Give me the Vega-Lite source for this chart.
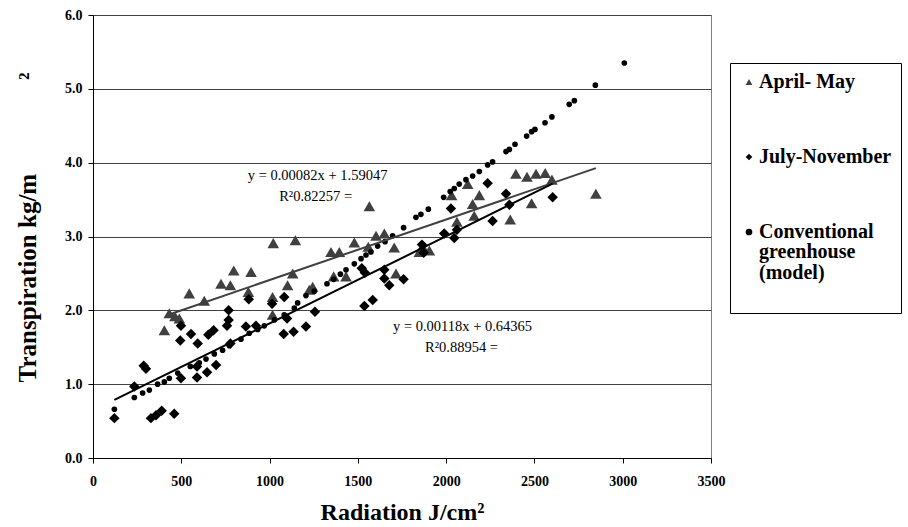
{
  "$schema": "https://vega.github.io/schema/vega-lite/v6.json",
  "width": 618,
  "height": 443,
  "autosize": {"type": "none"},
  "padding": {"left": 93, "top": 15, "right": 197, "bottom": 69},
  "background": "white",
  "config": {"view": {"stroke": "#808080", "strokeWidth": 1}, "font": "Liberation Serif"},
  "datasets": {
    "pts": [
      {"s":"April- May","x":404,"y":1.73},{"s":"April- May","x":432,"y":1.96},{"s":"April- May","x":464,"y":1.92},{"s":"April- May","x":489,"y":1.89},
      {"s":"April- May","x":545,"y":2.23},{"s":"April- May","x":630,"y":2.13},{"s":"April- May","x":725,"y":2.36},{"s":"April- May","x":778,"y":2.34},
      {"s":"April- May","x":797,"y":2.54},{"s":"April- May","x":895,"y":2.52},{"s":"April- May","x":880,"y":2.25},{"s":"April- May","x":1017,"y":2.18},
      {"s":"April- May","x":1017,"y":1.94},{"s":"April- May","x":1021,"y":2.91},{"s":"April- May","x":1102,"y":2.34},{"s":"April- May","x":1131,"y":2.5},
      {"s":"April- May","x":1146,"y":2.95},{"s":"April- May","x":1225,"y":2.28},{"s":"April- May","x":1244,"y":2.32},{"s":"April- May","x":1348,"y":2.79},
      {"s":"April- May","x":1363,"y":2.46},{"s":"April- May","x":1395,"y":2.79},{"s":"April- May","x":1433,"y":2.46},{"s":"April- May","x":1480,"y":2.92},
      {"s":"April- May","x":1559,"y":2.86},{"s":"April- May","x":1565,"y":3.41},{"s":"April- May","x":1603,"y":3.01},{"s":"April- May","x":1650,"y":3.04},
      {"s":"April- May","x":1706,"y":2.85},{"s":"April- May","x":1716,"y":2.5},{"s":"April- May","x":1848,"y":2.79},{"s":"April- May","x":1867,"y":2.86},
      {"s":"April- May","x":1905,"y":2.81},{"s":"April- May","x":2031,"y":3.56},{"s":"April- May","x":2061,"y":3.2},{"s":"April- May","x":2122,"y":3.71},
      {"s":"April- May","x":2150,"y":3.44},{"s":"April- May","x":2159,"y":3.28},{"s":"April- May","x":2188,"y":3.56},{"s":"April- May","x":2363,"y":3.23},
      {"s":"April- May","x":2395,"y":3.85},{"s":"April- May","x":2458,"y":3.81},{"s":"April- May","x":2484,"y":3.45},{"s":"April- May","x":2509,"y":3.85},
      {"s":"April- May","x":2561,"y":3.86},{"s":"April- May","x":2599,"y":3.77},{"s":"April- May","x":2848,"y":3.58},

      {"s":"July-November","x":121,"y":0.54},{"s":"July-November","x":234,"y":0.97},{"s":"July-November","x":287,"y":1.25},{"s":"July-November","x":300,"y":1.21},
      {"s":"July-November","x":328,"y":0.54},{"s":"July-November","x":357,"y":0.58},{"s":"July-November","x":389,"y":0.64},{"s":"July-November","x":460,"y":0.6},
      {"s":"July-November","x":494,"y":1.59},{"s":"July-November","x":498,"y":1.79},{"s":"July-November","x":498,"y":1.08},{"s":"July-November","x":555,"y":1.68},
      {"s":"July-November","x":589,"y":1.09},{"s":"July-November","x":589,"y":1.24},{"s":"July-November","x":593,"y":1.55},{"s":"July-November","x":646,"y":1.16},
      {"s":"July-November","x":653,"y":1.67},{"s":"July-November","x":683,"y":1.73},{"s":"July-November","x":697,"y":1.26},{"s":"July-November","x":759,"y":1.79},
      {"s":"July-November","x":768,"y":1.87},{"s":"July-November","x":768,"y":2.0},{"s":"July-November","x":778,"y":1.55},{"s":"July-November","x":866,"y":1.78},
      {"s":"July-November","x":882,"y":2.15},{"s":"July-November","x":923,"y":1.79},{"s":"July-November","x":1014,"y":2.09},{"s":"July-November","x":1080,"y":1.68},
      {"s":"July-November","x":1083,"y":2.18},{"s":"July-November","x":1099,"y":1.89},{"s":"July-November","x":1136,"y":1.71},{"s":"July-November","x":1206,"y":1.78},
      {"s":"July-November","x":1257,"y":1.98},{"s":"July-November","x":1537,"y":2.06},{"s":"July-November","x":1584,"y":2.14},{"s":"July-November","x":1522,"y":2.57},
      {"s":"July-November","x":1540,"y":2.51},{"s":"July-November","x":1650,"y":2.55},{"s":"July-November","x":1650,"y":2.43},{"s":"July-November","x":1678,"y":2.34},
      {"s":"July-November","x":1759,"y":2.42},{"s":"July-November","x":1863,"y":2.89},{"s":"July-November","x":1873,"y":2.78},{"s":"July-November","x":1989,"y":3.04},
      {"s":"July-November","x":2046,"y":2.98},{"s":"July-November","x":2061,"y":3.09},{"s":"July-November","x":2027,"y":3.38},{"s":"July-November","x":2235,"y":3.72},
      {"s":"July-November","x":2263,"y":3.21},{"s":"July-November","x":2339,"y":3.58},{"s":"July-November","x":2358,"y":3.43},{"s":"July-November","x":2603,"y":3.53},

      {"s":"Conventional greenhouse (model)","x":121,"y":0.66},{"s":"Conventional greenhouse (model)","x":234,"y":0.82},{"s":"Conventional greenhouse (model)","x":281,"y":0.88},
      {"s":"Conventional greenhouse (model)","x":319,"y":0.92},{"s":"Conventional greenhouse (model)","x":366,"y":1.0},{"s":"Conventional greenhouse (model)","x":404,"y":1.03},
      {"s":"Conventional greenhouse (model)","x":432,"y":1.08},{"s":"Conventional greenhouse (model)","x":480,"y":1.15},{"s":"Conventional greenhouse (model)","x":551,"y":1.24},
      {"s":"Conventional greenhouse (model)","x":602,"y":1.29},{"s":"Conventional greenhouse (model)","x":640,"y":1.34},{"s":"Conventional greenhouse (model)","x":687,"y":1.41},
      {"s":"Conventional greenhouse (model)","x":734,"y":1.46},{"s":"Conventional greenhouse (model)","x":772,"y":1.52},{"s":"Conventional greenhouse (model)","x":838,"y":1.61},
      {"s":"Conventional greenhouse (model)","x":885,"y":1.69},{"s":"Conventional greenhouse (model)","x":933,"y":1.74},{"s":"Conventional greenhouse (model)","x":970,"y":1.79},
      {"s":"Conventional greenhouse (model)","x":1027,"y":1.87},{"s":"Conventional greenhouse (model)","x":1083,"y":1.94},{"s":"Conventional greenhouse (model)","x":1140,"y":2.03},
      {"s":"Conventional greenhouse (model)","x":1159,"y":2.1},{"s":"Conventional greenhouse (model)","x":1206,"y":2.2},{"s":"Conventional greenhouse (model)","x":1253,"y":2.26},
      {"s":"Conventional greenhouse (model)","x":1325,"y":2.36},{"s":"Conventional greenhouse (model)","x":1363,"y":2.42},{"s":"Conventional greenhouse (model)","x":1401,"y":2.49},
      {"s":"Conventional greenhouse (model)","x":1433,"y":2.55},{"s":"Conventional greenhouse (model)","x":1480,"y":2.63},{"s":"Conventional greenhouse (model)","x":1518,"y":2.7},
      {"s":"Conventional greenhouse (model)","x":1546,"y":2.75},{"s":"Conventional greenhouse (model)","x":1574,"y":2.79},{"s":"Conventional greenhouse (model)","x":1612,"y":2.87},
      {"s":"Conventional greenhouse (model)","x":1654,"y":2.93},{"s":"Conventional greenhouse (model)","x":1697,"y":3.01},{"s":"Conventional greenhouse (model)","x":1759,"y":3.12},
      {"s":"Conventional greenhouse (model)","x":1829,"y":3.26},{"s":"Conventional greenhouse (model)","x":1857,"y":3.3},{"s":"Conventional greenhouse (model)","x":1899,"y":3.37},
      {"s":"Conventional greenhouse (model)","x":1986,"y":3.53},{"s":"Conventional greenhouse (model)","x":2023,"y":3.61},{"s":"Conventional greenhouse (model)","x":2046,"y":3.65},
      {"s":"Conventional greenhouse (model)","x":2074,"y":3.71},{"s":"Conventional greenhouse (model)","x":2112,"y":3.77},{"s":"Conventional greenhouse (model)","x":2150,"y":3.82},
      {"s":"Conventional greenhouse (model)","x":2188,"y":3.88},{"s":"Conventional greenhouse (model)","x":2235,"y":3.97},{"s":"Conventional greenhouse (model)","x":2263,"y":4.01},
      {"s":"Conventional greenhouse (model)","x":2339,"y":4.15},{"s":"Conventional greenhouse (model)","x":2358,"y":4.18},{"s":"Conventional greenhouse (model)","x":2390,"y":4.25},
      {"s":"Conventional greenhouse (model)","x":2456,"y":4.36},{"s":"Conventional greenhouse (model)","x":2484,"y":4.42},{"s":"Conventional greenhouse (model)","x":2503,"y":4.45},
      {"s":"Conventional greenhouse (model)","x":2560,"y":4.54},{"s":"Conventional greenhouse (model)","x":2599,"y":4.62},{"s":"Conventional greenhouse (model)","x":2697,"y":4.79},
      {"s":"Conventional greenhouse (model)","x":2726,"y":4.84},{"s":"Conventional greenhouse (model)","x":2845,"y":5.05},{"s":"Conventional greenhouse (model)","x":3009,"y":5.35}
    ]
  },
  "encoding": {
    "x": {
      "field": "x", "type": "quantitative",
      "scale": {"domain": [0, 3500], "nice": false, "zero": false},
      "axis": {
        "title": "Radiation J/cm²",
        "values": [0, 500, 1000, 1500, 2000, 2500, 3000, 3500], "format": "d",
        "grid": false, "domainColor": "#000", "tickColor": "#000", "tickSize": 5,
        "labelFont": "Liberation Serif", "labelFontWeight": "bold", "labelFontSize": 14, "labelColor": "#000",
        "labelBaseline": "middle", "labelPadding": 18, "labelFlush": false, "labelOverlap": false,
        "titleFont": "Liberation Serif", "titleFontWeight": "bold", "titleFontSize": 24, "titleColor": "#000",
        "titleY": 61, "titleBaseline": "alphabetic"
      }
    },
    "y": {
      "field": "y", "type": "quantitative",
      "scale": {"domain": [0, 6], "nice": false},
      "axis": {
        "title": "Transpiration kg/m\u00a0\u00a0\u00a0\u00a0\u00a0\u00a0\u00a0\u00a0\u00a0\u00a0\u00a0\u00a0\u00a0\u00a0\u00a0²",
        "values": [0, 1, 2, 3, 4, 5, 6], "format": ".1f",
        "grid": true, "gridColor": "#404040", "gridOpacity": 1, "gridWidth": 1,
        "domainColor": "#000", "tickColor": "#000", "tickSize": 5,
        "labelFont": "Liberation Serif", "labelFontWeight": "bold", "labelFontSize": 14, "labelColor": "#000", "labelPadding": 6,
        "titleFont": "Liberation Serif", "titleFontWeight": "bold", "titleFontSize": 25, "titleColor": "#000",
        "titleX": -66, "titleY": 212, "titleAngle": -90, "titleAlign": "center", "titleBaseline": "middle"
      }
    }
  },
  "layer": [
    {
      "data": {"name": "pts"},
      "mark": {"type": "point", "filled": true, "opacity": 1},
      "encoding": {
        "shape": {
          "field": "s", "type": "nominal",
          "scale": {"domain": ["April- May", "July-November", "Conventional greenhouse (model)"], "range": ["triangle-up", "diamond", "circle"]},
          "legend": {
            "orient": "none", "legendX": 637, "legendY": 48,
            "title": ["\u200b\u00a0\u00a0\u00a0\u00a0greenhouse", "\u200b\u00a0\u00a0\u00a0\u00a0(model)", "\u200b"],
            "titleOrient": "bottom", "titleAnchor": "start", "titleFont": "Liberation Serif", "titleFontWeight": "bold",
            "titleFontSize": 20, "titleLineHeight": 21, "titlePadding": 0, "titleColor": "#000",
            "labelExpr": "datum.label === 'Conventional greenhouse (model)' ? 'Conventional' : datum.label",
            "labelFont": "Liberation Serif", "labelFontWeight": "bold", "labelFontSize": 20, "labelColor": "#000",
            "labelLimit": 300, "labelOffset": 0, "symbolOffset": 0, "symbolSize": 45, "rowPadding": 55, "padding": 9,
            "strokeColor": "#000", "fillColor": "#fff"
          }
        },
        "color": {
          "field": "s", "type": "nominal",
          "scale": {"domain": ["April- May", "July-November", "Conventional greenhouse (model)"], "range": ["#404040", "#000000", "#000000"]},
          "legend": {
            "orient": "none", "legendX": 637, "legendY": 48,
            "title": ["\u200b\u00a0\u00a0\u00a0\u00a0greenhouse", "\u200b\u00a0\u00a0\u00a0\u00a0(model)", "\u200b"],
            "titleOrient": "bottom", "titleAnchor": "start", "titleFont": "Liberation Serif", "titleFontWeight": "bold",
            "titleFontSize": 20, "titleLineHeight": 21, "titlePadding": 0, "titleColor": "#000",
            "labelExpr": "datum.label === 'Conventional greenhouse (model)' ? 'Conventional' : datum.label",
            "labelFont": "Liberation Serif", "labelFontWeight": "bold", "labelFontSize": 20, "labelColor": "#000",
            "labelLimit": 300, "labelOffset": 0, "symbolOffset": 0, "symbolSize": 45, "rowPadding": 55, "padding": 9,
            "strokeColor": "#000", "fillColor": "#fff"
          }
        },
        "size": {
          "condition": [
            {"test": "datum.s === 'Conventional greenhouse (model)'", "value": 32},
            {"test": "datum.s === 'April- May'", "value": 135}
          ],
          "value": 110
        }
      }
    },
    {
      "data": {"values": [{"x": 440, "y": 1.951}, {"x": 2848, "y": 3.926}]},
      "mark": {"type": "line", "color": "#404040", "strokeWidth": 2},
      "encoding": {}
    },
    {
      "data": {"values": [{"x": 121, "y": 0.786}, {"x": 2603, "y": 3.715}]},
      "mark": {"type": "line", "color": "#000000", "strokeWidth": 2},
      "encoding": {}
    },
    {
      "data": {"values": [
        {"x": 1272, "y": 3.82, "t": "y = 0.00082x + 1.59047"},
        {"x": 1261, "y": 3.54, "t": "R²0.82257 ="},
        {"x": 2093, "y": 1.77, "t": "y = 0.00118x + 0.64365"},
        {"x": 2087, "y": 1.49, "t": "R²0.88954 ="}
      ]},
      "mark": {"type": "text", "font": "Liberation Serif", "fontSize": 14.5, "color": "#000", "align": "center", "baseline": "middle"},
      "encoding": {"text": {"field": "t", "type": "nominal"}}
    }
  ]
}
